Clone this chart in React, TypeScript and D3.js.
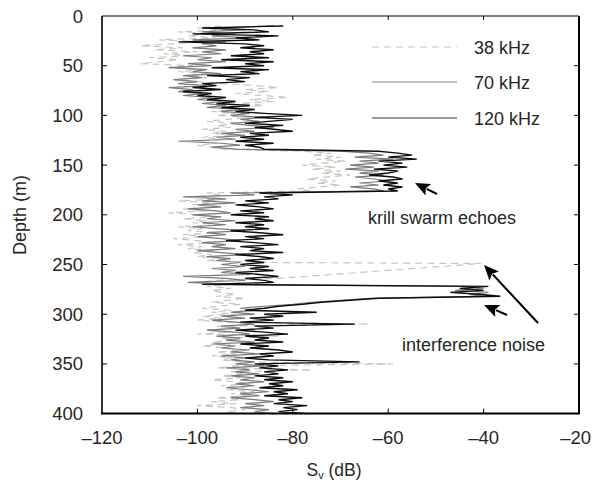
import React from "react";
import * as d3 from "d3";

// ---- data ----
const depthGrid: number[] = d3.range(10, 402, 2); // sampling depths (m) for 70 & 120 kHz
const depth38: number[] = [...d3.range(10, 250, 2), 249, ...d3.range(264, 402, 2)];

const sv120: number[] = [
  -82, -99, -88, -85, -101, -83, -92, -87, -104, -90,
  -86, -91, -84, -89, -86, -93, -85, -95, -84, -90,
  -86, -97, -85, -91, -87, -98, -89, -94, -90, -99,
  -96, -101, -95, -103, -97, -100, -94, -98, -92, -96,
  -89, -95, -88, -92, -86, -78, -88, -80, -85, -90,
  -82, -88, -84, -80, -89, -85, -91, -86, -92, -84,
  -90, -87, -86, -62, -58, -55, -60, -54, -62, -57,
  -61, -56, -63, -58, -60, -64, -59, -57, -62, -58,
  -61, -57, -60, -58, -87, -80, -86, -83, -90, -85,
  -92, -87, -84, -91, -86, -93, -85, -88, -84, -92,
  -86, -90, -85, -93, -87, -82, -90, -86, -94, -88,
  -83, -91, -86, -89, -82, -92, -87, -84, -90, -86,
  -91, -85, -89, -84, -92, -87, -83, -90, -86, -84,
  -99, -39, -45, -40, -47, -41, -36.5, -62, -68, -74,
  -78, -83, -86, -90, -75, -86, -82, -89, -84, -91,
  -67, -88, -84, -92, -86, -81, -90, -85, -88, -82,
  -91, -85, -89, -83, -80, -87, -84, -90, -85, -66,
  -88, -83, -87, -81, -86, -83, -88, -82, -86, -80,
  -85, -82, -87, -79, -84, -81, -86, -78, -83, -80,
  -84, -77, -82, -79, -83, -77,
];

const sv70: number[] = [
  -84, -95, -90, -99, -92, -97, -89, -101, -94, -99,
  -96, -101, -94, -99, -95, -103, -97, -100, -94, -102,
  -97, -106, -98, -101, -95, -103, -99, -105, -100, -104,
  -98, -106, -101, -104, -99, -103, -97, -100, -95, -99,
  -94, -98, -91, -95, -89, -93, -86, -91, -87, -93,
  -89, -84, -92, -88, -95, -90, -96, -92, -104, -95,
  -91, -97, -92, -70, -64, -61, -67, -59, -66, -62,
  -68, -63, -69, -62, -66, -61, -67, -63, -60, -66,
  -62, -68, -63, -61, -93, -88, -103, -94, -99, -92,
  -100, -95, -102, -96, -93, -101, -95, -98, -92, -99,
  -94, -101, -96, -90, -98, -94, -100, -95, -91, -99,
  -94, -97, -92, -100, -95, -90, -98, -93, -96, -91,
  -95, -90, -97, -92, -95, -89, -103, -94, -90, -102,
  -92, -44, -40, -46, -39, -43, -40, -64, -70, -76,
  -80, -86, -91, -87, -93, -88, -95, -90, -97, -92,
  -88, -95, -91, -98, -92, -89, -96, -91, -94, -88,
  -97, -92, -95, -89, -93, -87, -95, -90, -93, -88,
  -92, -86, -94, -89, -92, -87, -93, -88, -91, -86,
  -92, -88, -94, -89, -85, -91, -87, -93, -88, -84,
  -90, -86, -91, -85, -88, -84,
];

const sv38: number[] = [
  -95, -100, -93, -104, -97, -102, -96, -108, -99, -105,
  -112, -103, -109, -100, -107, -102, -110, -104, -108, -112,
  -101, -106, -99, -104, -97, -103, -98, -105, -100, -95,
  -88, -83, -90, -85, -92, -86, -81, -89, -84, -91,
  -86, -95, -90, -97, -92, -96, -89, -94, -98, -91,
  -96, -93, -99, -94, -97, -92, -99, -95, -101, -96,
  -100, -97, -95, -78, -72, -76, -70, -75, -69, -74,
  -78, -71, -76, -70, -74, -68, -73, -77, -71, -75,
  -70, -74, -79, -76, -98, -95, -100, -94, -104, -97,
  -101, -95, -103, -98, -106, -100, -96, -103, -98, -101,
  -95, -104, -99, -102, -96, -103, -98, -105, -100, -97,
  -104, -99, -102, -96, -101, -97, -100, -94, -98, -83,
  -40.5,
  -83, -96, -100, -94, -98, -93, -97, -95, -92, -96,
  -90, -94, -97, -91, -96, -99, -93, -97, -92, -99,
  -95, -100, -94, -64, -96, -92, -98, -93, -100, -83,
  -95, -91, -97, -93, -99, -94, -90, -96, -92, -97,
  -93, -95, -90, -59, -92, -96, -76, -93, -90, -95,
  -91, -97, -92, -89, -95, -90, -94, -88, -93, -89,
  -96, -91, -97, -92, -100, -93, -90, -94, -91,
];

const xTicks: number[] = [-120, -100, -80, -60, -40, -20];
const xTickLabels: string[] = ["\u2013120", "\u2013100", "\u201380", "\u201360", "\u201340", "\u201320"];
const yTicks: number[] = [0, 50, 100, 150, 200, 250, 300, 350, 400];
const legendLabels: string[] = ["38 kHz", "70 kHz", "120 kHz"];

// ---- layout ----
const W = 592, H = 490;
const L = 102, R = 579, T = 16, B = 413.6;
const FONT = "'Liberation Sans', Arial, Helvetica, sans-serif";
const TXT = "#262626";

export default function App() {
  const x = d3.scaleLinear().domain([-120, -20]).range([L, R]);
  const y = d3.scaleLinear().domain([0, 400]).range([T, B]);

  const mk = (ds: number[], vs: number[]) =>
    d3.line<number>().x((v) => x(v)).y((_, i) => y(ds[i]))(vs) || "";

  const series = [
    { label: legendLabels[0], d: mk(depth38, sv38), stroke: "#c6c6bd", w: 1.2, dash: "7,5" },
    { label: legendLabels[1], d: mk(depthGrid, sv70), stroke: "#7a7a7a", w: 1.2, dash: undefined },
    { label: legendLabels[2], d: mk(depthGrid, sv120), stroke: "#0d0d0d", w: 1.4, dash: undefined },
  ];
  const legendStroke = ["#c6c6bd", "#808080", "#333"];
  const legendY = [47, 82, 118];

  const arrow = (x1: number, y1: number, x2: number, y2: number, key: string) => {
    const a = Math.atan2(y2 - y1, x2 - x1);
    const hl = 15, hw = 6.5;
    const bx = x2 - hl * Math.cos(a), by = y2 - hl * Math.sin(a);
    const px = -Math.sin(a) * hw, py = Math.cos(a) * hw;
    return (
      <g key={key}>
        <line x1={x1} y1={y1} x2={bx + 2 * Math.cos(a)} y2={by + 2 * Math.sin(a)} stroke="#000" strokeWidth={2} />
        <path d={`M${x2},${y2}L${bx + px},${by + py}L${bx + 3 * Math.cos(a)},${by + 3 * Math.sin(a)}L${bx - px},${by - py}Z`} fill="#000" />
      </g>
    );
  };

  return (
    <svg width={W} height={H} style={{ position: "absolute", left: 0, top: 0, background: "#fff" }} fontFamily={FONT}>
      {/* series */}
      {series.map((s) => (
        <path key={s.label} d={s.d} fill="none" stroke={s.stroke} strokeWidth={s.w} strokeDasharray={s.dash} strokeLinejoin="miter" />
      ))}

      {/* frame */}
      <line x1={L} y1={T} x2={R} y2={T} stroke="#000" strokeWidth={1} />
      <line x1={L} y1={T} x2={L} y2={B} stroke="#000" strokeWidth={1.6} />
      <line x1={R} y1={T} x2={R} y2={B} stroke="#000" strokeWidth={2} />
      <line x1={L - 1} y1={B} x2={R + 1} y2={B} stroke="#000" strokeWidth={2} />

      {/* x ticks */}
      {xTicks.map((t, i) => (
        <g key={"xt" + t}>
          {i > 0 && i < xTicks.length - 1 && (
            <>
              <line x1={x(t)} x2={x(t)} y1={B} y2={B - 5} stroke="#000" strokeWidth={1} />
              <line x1={x(t)} x2={x(t)} y1={T} y2={T + 4} stroke="#000" strokeWidth={1} />
            </>
          )}
          <text
            x={i === xTicks.length - 1 ? 591 : x(t)}
            y={444}
            textAnchor={i === xTicks.length - 1 ? "end" : "middle"}
            fontSize={18.5}
            fill={TXT}
          >
            {xTickLabels[i]}
          </text>
        </g>
      ))}

      {/* y ticks */}
      {yTicks.map((t, i) => (
        <g key={"yt" + t}>
          {i > 0 && i < yTicks.length - 1 && (
            <>
              <line x1={L} x2={L + 5} y1={y(t)} y2={y(t)} stroke="#000" strokeWidth={1} />
              <line x1={R} x2={R - 5} y1={y(t)} y2={y(t)} stroke="#000" strokeWidth={1} />
            </>
          )}
          <text x={83} y={y(t) + 6.5} textAnchor="end" fontSize={18.5} fill={TXT}>{t}</text>
        </g>
      ))}

      {/* axis titles */}
      <text x={334} y={476} textAnchor="middle" fontSize={17.5} fill={TXT}>
        S<tspan fontSize={11} dy={3}>v</tspan><tspan dy={-3}> (dB)</tspan>
      </text>
      <text transform={`translate(26,215) rotate(-90)`} textAnchor="middle" fontSize={18} fill={TXT}>Depth (m)</text>

      {/* legend */}
      {legendLabels.map((lab, i) => (
        <g key={lab}>
          <line x1={372} x2={457} y1={legendY[i]} y2={legendY[i]} stroke={legendStroke[i]} strokeWidth={1.2} strokeDasharray={i === 0 ? "7,5" : undefined} />
          <text x={474} y={legendY[i] + 6.5} fontSize={18} fill={TXT}>{lab}</text>
        </g>
      ))}

      {/* annotations */}
      <text x={368} y={223.5} fontSize={18} fill={TXT}>krill swarm echoes</text>
      <text x={402} y={350.5} fontSize={18} fill={TXT}>interference noise</text>
      {arrow(437, 194, 415, 183, "a1")}
      {arrow(538, 323, 484, 265, "a2")}
      {arrow(507, 315, 484, 305, "a3")}
    </svg>
  );
}
